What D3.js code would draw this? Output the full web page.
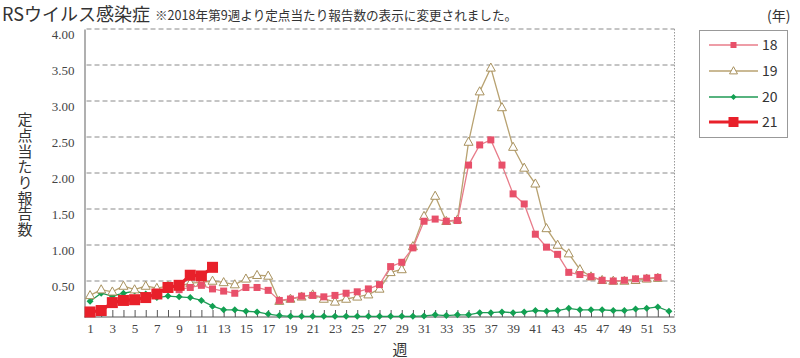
<!DOCTYPE html>
<html><head><meta charset="utf-8">
<script src="https://cdn.jsdelivr.net/npm/d3@7/dist/d3.min.js"></script>
<style>
html,body{margin:0;padding:0;background:#fff;}
svg{display:block;}
</style></head>
<body>
<svg id="c" width="800" height="358"></svg>
<script>
const weeks = d3.range(1, 54);
const yTicks = [0.5, 1.0, 1.5, 2.0, 2.5, 3.0, 3.5, 4.0];
const xTickLabels = d3.range(1, 54, 2);
const seriesNames = ["18", "19", "20", "21"];
const yTitle = "定点当たり報告数";

// 2018: from week 9 (per-sentinel values)
const s18Start = 9;
const s18 = [0.38,0.41,0.44,0.39,0.36,0.33,0.41,0.41,0.37,0.23,0.25,0.29,0.30,0.28,0.30,0.33,0.35,0.39,0.45,0.70,0.76,0.96,1.33,1.36,1.33,1.34,2.11,2.39,2.46,2.11,1.71,1.57,1.15,0.97,0.87,0.62,0.59,0.56,0.51,0.50,0.51,0.53,0.54,0.55];
const s19 = [0.30,0.38,0.35,0.43,0.38,0.43,0.40,0.43,0.43,0.47,0.48,0.50,0.48,0.45,0.53,0.58,0.57,0.22,0.25,0.28,0.31,0.25,0.21,0.25,0.28,0.31,0.39,0.62,0.66,0.98,1.40,1.68,1.33,1.35,2.43,3.13,3.46,2.91,2.36,2.07,1.85,1.23,1.00,0.88,0.66,0.56,0.51,0.50,0.50,0.51,0.53,0.54];
const s20 = [0.22,0.33,0.29,0.33,0.36,0.32,0.27,0.29,0.28,0.27,0.23,0.15,0.10,0.10,0.08,0.07,0.04,0.02,0.01,0.01,0.01,0.01,0.01,0.01,0.01,0.01,0.01,0.01,0.01,0.01,0.015,0.03,0.02,0.03,0.03,0.06,0.06,0.07,0.06,0.07,0.09,0.08,0.09,0.12,0.10,0.10,0.10,0.09,0.09,0.11,0.12,0.14,0.08];
const s21 = [0.07,0.09,0.20,0.23,0.24,0.27,0.32,0.41,0.44,0.58,0.57,0.69];

const svg = d3.select("#c");
const L = 84.5, R = 674.5, T = 29, B = 317;
const x = d3.scaleLinear().domain([0.5, 53.5]).range([L, R]);
const y = d3.scaleLinear().domain([0, 4]).range([B, T]);

const serifF = "'Liberation Serif','DejaVu Serif',serif";
const jpF = "'Noto Sans CJK JP','Noto Sans',sans-serif";

// title
svg.append("text").attr("x", 2).attr("y", 21).attr("font-family", jpF).attr("font-size", 18)
  .attr("fill", "#333").text("RSウイルス感染症");
svg.append("text").attr("x", 155).attr("y", 20).attr("font-family", jpF).attr("font-size", 12.6)
  .attr("fill", "#333").text("※2018年第9週より定点当たり報告数の表示に変更されました。");

// gridlines
svg.append("g").selectAll("line").data(yTicks).join("line")
  .attr("x1", L + 2).attr("x2", R).attr("y1", d => y(d)).attr("y2", d => y(d))
  .attr("stroke", "#8a8a8a").attr("stroke-width", 1).attr("stroke-dasharray", "5,3");

// right dotted border
svg.append("line").attr("x1", R).attr("x2", R).attr("y1", T).attr("y2", B)
  .attr("stroke", "#999").attr("stroke-dasharray", "1.5,1.5");

// y axis
const yAxis = d3.axisLeft(y).tickValues(yTicks).tickSize(0).tickPadding(10).tickFormat(d3.format(".2f"));
const gy = svg.append("g").attr("transform", `translate(${L},0)`).call(yAxis);
gy.select(".domain").attr("stroke", "#b0b0b0").attr("stroke-width", 2);
gy.selectAll("text").attr("font-family", serifF).attr("font-size", 13).attr("fill", "#444")
  .attr("dy", "0.75em");

// x axis
const xAxis = d3.axisBottom(x).tickValues(weeks).tickSize(-7).tickPadding(7)
  .tickFormat(d => (xTickLabels.includes(d) ? d : ""));
const gx = svg.append("g").attr("transform", `translate(0,${B})`).call(xAxis);
gx.select(".domain").attr("stroke", "#555").attr("stroke-width", 1.2).attr("d", `M${L},0H${R}`);
gx.selectAll(".tick line").attr("stroke", "#555");
gx.selectAll("text").attr("font-family", serifF).attr("font-size", 13).attr("fill", "#444");

// y axis title: vertical writing
svg.append("text").attr("x", 25).attr("y", 112)
  .attr("font-family", jpF).attr("font-size", 15).attr("fill", "#333")
  .style("writing-mode", "vertical-rl").style("text-orientation", "upright")
  .style("letter-spacing", "0.7px")
  .text(yTitle);
svg.append("text").attr("x", 400).attr("y", 355).attr("text-anchor", "middle")
  .attr("font-family", jpF).attr("font-size", 15).attr("fill", "#333").text("週");

const line = d3.line().x(d => x(d[0])).y(d => y(d[1]));
const toPts = (arr, start) => arr.map((v, i) => [start + i, v]);

const styles = {
  "18": {line: "#e87c8a", lw: 1.3, marker: "square", size: 7, fill: "#e8506a", stroke: "#e8506a"},
  "19": {line: "#b8a271", lw: 1.3, marker: "triangle", size: 9, fill: "#fff", stroke: "#a8915e"},
  "20": {line: "#1f9a55", lw: 1.3, marker: "diamond", size: 7, fill: "#12a052", stroke: "#12a052"},
  "21": {line: "#e8202a", lw: 3.2, marker: "square", size: 11, fill: "#e8202a", stroke: "#e8202a"}
};
const data = {
  "18": toPts(s18, s18Start),
  "19": toPts(s19, 1),
  "20": toPts(s20, 1),
  "21": toPts(s21, 1)
};

function drawMarker(g, type, cx, cy, s, st) {
  if (type === "square") {
    g.append("rect").attr("x", cx - s/2).attr("y", cy - s/2).attr("width", s).attr("height", s)
      .attr("fill", st.fill);
  } else if (type === "triangle") {
    const h = s * 0.9;
    g.append("path").attr("d", `M${cx},${cy - h*0.6}L${cx + s/2},${cy + h*0.4}L${cx - s/2},${cy + h*0.4}Z`)
      .attr("fill", st.fill).attr("stroke", st.stroke).attr("stroke-width", 1);
  } else {
    const r = s / 2;
    g.append("path").attr("d", `M${cx},${cy - r}L${cx + r},${cy}L${cx},${cy + r}L${cx - r},${cy}Z`)
      .attr("fill", st.fill);
  }
}

const order = ["20", "19", "18", "21"];
order.forEach(k => {
  const st = styles[k];
  const g = svg.append("g");
  g.append("path").datum(data[k]).attr("d", line).attr("fill", "none")
    .attr("stroke", st.line).attr("stroke-width", st.lw);
  data[k].forEach(p => drawMarker(g, st.marker, x(p[0]), y(p[1]), st.size, st));
});

// legend
svg.append("text").attr("x", 767).attr("y", 21).attr("font-family", jpF).attr("font-size", 14)
  .attr("fill", "#333").text("(年)");
svg.append("rect").attr("x", 699.5).attr("y", 30.5).attr("width", 88).attr("height", 107)
  .attr("fill", "#fff").attr("stroke", "#999");
const legY = [45, 71, 97, 122];
seriesNames.forEach((k, i) => {
  const st = styles[k];
  const g = svg.append("g");
  const ly = legY[i];
  g.append("line").attr("x1", 709).attr("x2", 758).attr("y1", ly).attr("y2", ly)
    .attr("stroke", st.line).attr("stroke-width", st.lw);
  drawMarker(g, st.marker, 733.5, ly, k === "21" ? 10 : (k === "20" ? 6 : st.size - 1), st);
  g.append("text").attr("x", 762).attr("y", ly + 5).attr("font-family", jpF).attr("font-size", 14)
    .attr("fill", "#333").text(k);
});
</script>
</body></html>
